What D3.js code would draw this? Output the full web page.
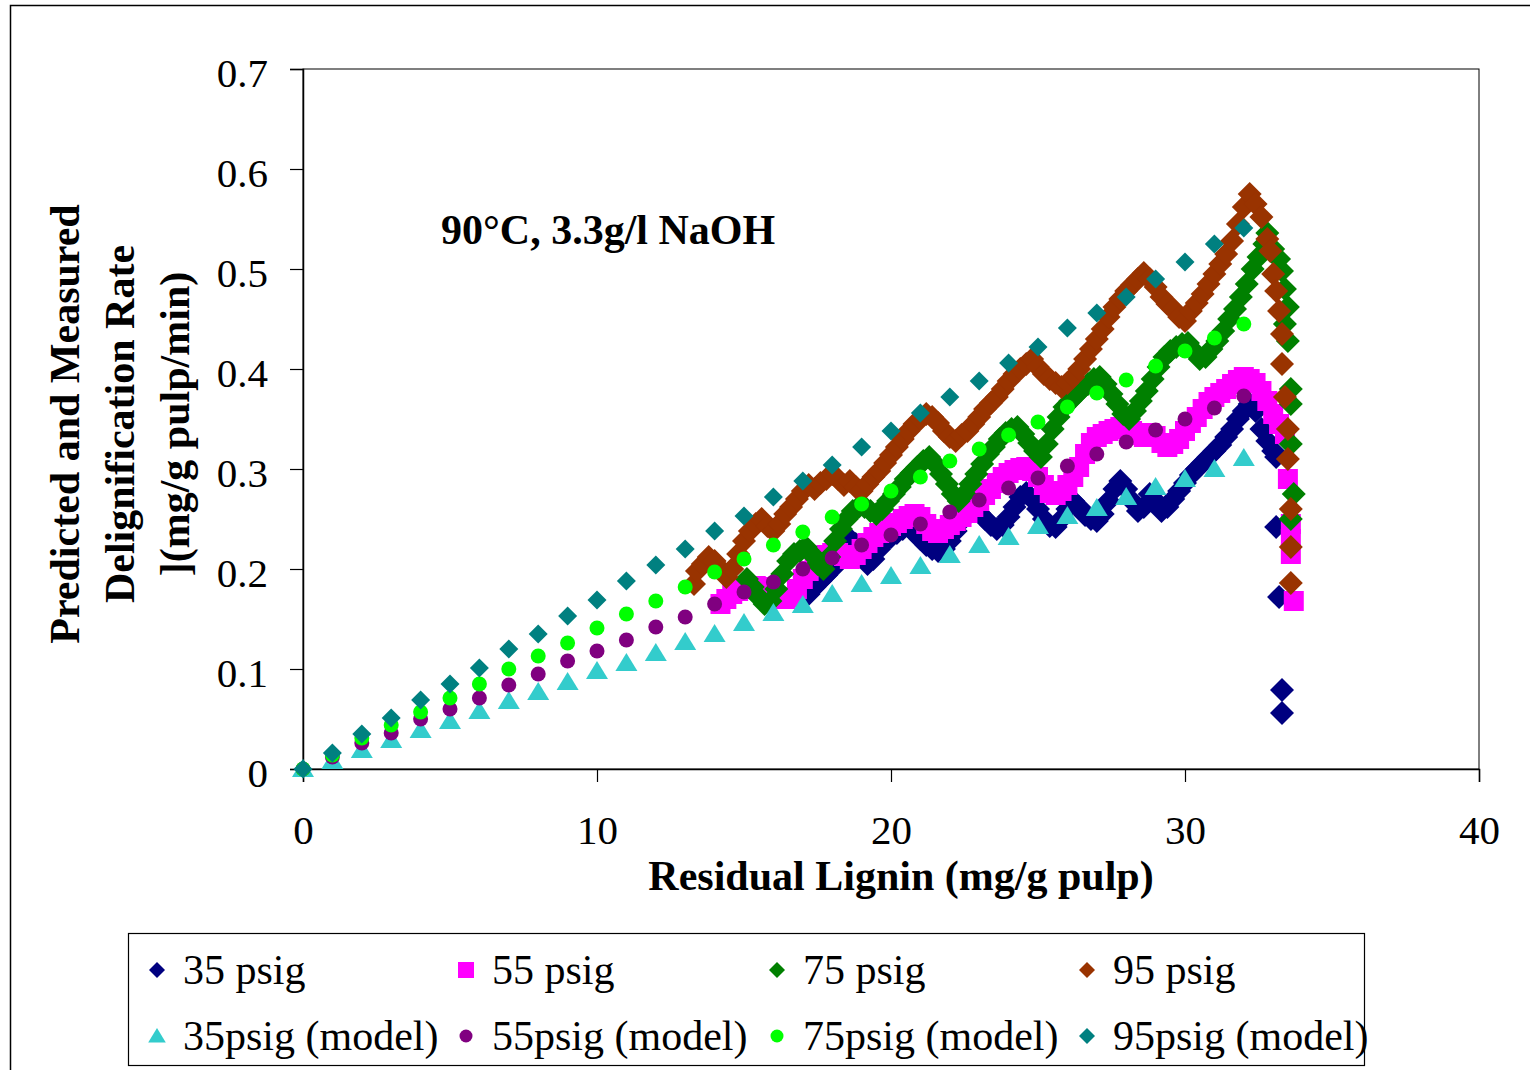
<!DOCTYPE html>
<html>
<head>
<meta charset="utf-8">
<script src="https://cdn.jsdelivr.net/npm/d3@7"></script>
<style>
  body { margin: 0; background: #fff; }
  svg text { font-family: "Times New Roman", "Liberation Serif", serif; fill: #000; }
</style>
</head>
<body>
<div id="chart"></div>
<script>
// measured rate, [residual lignin, rate]
var meas35 = [[17.2,0.175],[17.4,0.182],[17.6,0.188],[17.8,0.194],[18.0,0.200],[18.2,0.212],[18.4,0.222],[18.6,0.230],[18.8,0.225],[19.0,0.215],[19.2,0.205],[19.4,0.210],[19.6,0.220],[19.8,0.228],[20.0,0.232],[20.2,0.236],[20.4,0.240],[20.6,0.242],[20.8,0.236],[21.0,0.230],[21.2,0.224],[21.4,0.220],[21.6,0.218],[21.8,0.220],[22.0,0.228],[22.2,0.238],[22.4,0.248],[22.6,0.256],[22.8,0.260],[23.0,0.256],[23.2,0.250],[23.4,0.244],[23.6,0.240],[23.8,0.244],[24.0,0.252],[24.2,0.262],[24.4,0.272],[24.6,0.276],[24.8,0.270],[25.0,0.260],[25.2,0.250],[25.4,0.243],[25.6,0.242],[25.8,0.250],[26.0,0.260],[26.2,0.268],[26.4,0.262],[26.6,0.254],[26.8,0.250],[27.0,0.248],[27.2,0.255],[27.4,0.268],[27.6,0.280],[27.8,0.288],[28.0,0.280],[28.2,0.268],[28.4,0.258],[28.6,0.262],[28.8,0.275],[29.0,0.268],[29.2,0.258],[29.4,0.262],[29.6,0.270],[29.8,0.278],[30.0,0.286],[30.2,0.294],[30.4,0.300],[30.6,0.306],[30.8,0.312],[31.0,0.318],[31.2,0.324],[31.4,0.332],[31.6,0.340],[31.8,0.350],[32.0,0.358],[32.2,0.365],[32.4,0.358],[32.6,0.340],[32.8,0.328],[33.0,0.318],[33.1,0.312],[33.1,0.242],[33.2,0.172],[33.3,0.079],[33.3,0.056]];

var meas55 = [[14.2,0.165],[14.4,0.170],[14.6,0.175],[14.8,0.178],[15.0,0.180],[15.2,0.182],[15.4,0.183],[15.6,0.182],[15.8,0.178],[16.0,0.175],[16.2,0.172],[16.4,0.170],[16.6,0.172],[16.8,0.180],[17.0,0.190],[17.2,0.198],[17.4,0.205],[17.6,0.210],[17.8,0.214],[18.0,0.216],[18.2,0.216],[18.4,0.213],[18.6,0.210],[18.8,0.214],[19.0,0.220],[19.2,0.226],[19.4,0.232],[19.6,0.236],[19.8,0.240],[20.0,0.243],[20.2,0.246],[20.4,0.250],[20.6,0.253],[20.8,0.255],[21.0,0.252],[21.2,0.245],[21.4,0.238],[21.6,0.236],[21.8,0.240],[22.0,0.244],[22.2,0.248],[22.4,0.252],[22.6,0.256],[22.8,0.262],[23.0,0.268],[23.2,0.274],[23.4,0.280],[23.6,0.286],[23.8,0.292],[24.0,0.296],[24.2,0.299],[24.4,0.301],[24.6,0.302],[24.8,0.298],[25.0,0.292],[25.2,0.284],[25.4,0.276],[25.6,0.274],[25.8,0.278],[26.0,0.284],[26.2,0.292],[26.4,0.302],[26.6,0.315],[26.8,0.326],[27.0,0.332],[27.2,0.335],[27.4,0.338],[27.6,0.340],[27.8,0.342],[28.0,0.341],[28.2,0.338],[28.4,0.334],[28.6,0.332],[28.8,0.336],[29.0,0.333],[29.2,0.326],[29.4,0.322],[29.6,0.325],[29.8,0.330],[30.0,0.338],[30.2,0.346],[30.4,0.352],[30.6,0.360],[30.8,0.367],[31.0,0.372],[31.2,0.376],[31.4,0.380],[31.6,0.385],[31.8,0.389],[32.0,0.392],[32.2,0.390],[32.4,0.386],[32.6,0.378],[32.8,0.368],[33.0,0.355],[33.2,0.345],[33.4,0.335],[33.5,0.290],[33.6,0.245],[33.6,0.230],[33.6,0.215],[33.7,0.168]];

var meas75 = [[15.1,0.190],[15.3,0.182],[15.5,0.172],[15.7,0.165],[15.9,0.168],[16.1,0.180],[16.3,0.195],[16.5,0.208],[16.7,0.215],[16.9,0.218],[17.1,0.222],[17.3,0.215],[17.5,0.205],[17.7,0.200],[17.9,0.212],[18.1,0.228],[18.3,0.240],[18.5,0.250],[18.7,0.258],[18.9,0.262],[19.1,0.262],[19.3,0.258],[19.5,0.255],[19.7,0.260],[19.9,0.268],[20.1,0.275],[20.3,0.282],[20.5,0.290],[20.7,0.296],[20.9,0.302],[21.1,0.308],[21.3,0.312],[21.5,0.305],[21.7,0.295],[21.9,0.285],[22.1,0.275],[22.3,0.268],[22.5,0.275],[22.7,0.285],[22.9,0.295],[23.1,0.305],[23.3,0.315],[23.5,0.322],[23.7,0.330],[23.9,0.336],[24.1,0.340],[24.3,0.342],[24.5,0.335],[24.7,0.326],[24.9,0.318],[25.1,0.312],[25.3,0.325],[25.5,0.340],[25.7,0.352],[25.9,0.362],[26.1,0.368],[26.3,0.374],[26.5,0.380],[26.7,0.385],[26.9,0.390],[27.1,0.392],[27.3,0.385],[27.5,0.375],[27.7,0.365],[27.9,0.355],[28.1,0.350],[28.3,0.358],[28.5,0.368],[28.7,0.378],[28.9,0.390],[29.1,0.402],[29.3,0.412],[29.5,0.418],[29.7,0.422],[29.9,0.425],[30.1,0.426],[30.3,0.418],[30.5,0.410],[30.7,0.412],[30.9,0.420],[31.1,0.428],[31.3,0.438],[31.5,0.450],[31.7,0.460],[31.9,0.472],[32.1,0.485],[32.3,0.500],[32.5,0.512],[32.7,0.525],[32.8,0.536],[33.0,0.520],[33.2,0.510],[33.3,0.498],[33.4,0.480],[33.5,0.462],[33.4,0.445],[33.5,0.428],[33.6,0.380],[33.6,0.365],[33.6,0.325],[33.7,0.275],[33.6,0.250]];

var meas95 = [[13.3,0.185],[13.4,0.198],[13.6,0.205],[13.8,0.212],[14.0,0.208],[14.2,0.200],[14.4,0.192],[14.6,0.200],[14.8,0.215],[15.0,0.228],[15.2,0.238],[15.4,0.245],[15.6,0.250],[15.8,0.243],[16.0,0.238],[16.2,0.245],[16.4,0.255],[16.6,0.262],[16.8,0.270],[17.0,0.278],[17.2,0.284],[17.4,0.280],[17.6,0.286],[17.8,0.290],[18.0,0.295],[18.2,0.290],[18.4,0.284],[18.6,0.288],[18.8,0.282],[19.0,0.278],[19.2,0.285],[19.4,0.292],[19.6,0.298],[19.8,0.306],[20.0,0.314],[20.2,0.322],[20.4,0.330],[20.6,0.338],[20.8,0.345],[21.0,0.350],[21.2,0.355],[21.4,0.352],[21.6,0.346],[21.8,0.338],[22.0,0.332],[22.2,0.328],[22.4,0.334],[22.6,0.338],[22.8,0.345],[23.0,0.352],[23.2,0.360],[23.4,0.366],[23.6,0.372],[23.8,0.380],[24.0,0.388],[24.2,0.395],[24.4,0.400],[24.6,0.405],[24.8,0.410],[25.0,0.402],[25.2,0.395],[25.4,0.390],[25.6,0.386],[25.8,0.382],[26.0,0.386],[26.2,0.392],[26.4,0.400],[26.6,0.410],[26.8,0.420],[27.0,0.430],[27.2,0.440],[27.4,0.452],[27.6,0.462],[27.8,0.470],[28.0,0.478],[28.2,0.484],[28.4,0.490],[28.6,0.496],[28.8,0.490],[29.0,0.482],[29.2,0.472],[29.4,0.465],[29.6,0.460],[29.8,0.452],[30.0,0.448],[30.2,0.458],[30.4,0.466],[30.6,0.475],[30.8,0.485],[31.0,0.495],[31.2,0.505],[31.4,0.515],[31.6,0.528],[31.8,0.545],[32.0,0.562],[32.2,0.575],[32.4,0.565],[32.6,0.552],[32.8,0.530],[32.9,0.518],[33.0,0.495],[33.1,0.478],[33.2,0.458],[33.3,0.435],[33.3,0.405],[33.4,0.372],[33.5,0.340],[33.5,0.310],[33.6,0.260],[33.6,0.222],[33.6,0.186]];

// model predictions at whole-number lignin values
var modelX = [0,1,2,3,4,5,6,7,8,9,10,11,12,13,14,15,16,17,18,19,20,21,22,23,24,25,26,27,28,29,30,31,32];
var model35 = [0,0.008,0.019,0.029,0.039,0.048,0.058,0.068,0.077,0.087,0.098,0.106,0.116,0.127,0.135,0.146,0.156,0.164,0.175,0.185,0.193,0.203,0.214,0.224,0.232,0.243,0.253,0.261,0.272,0.282,0.290,0.300,0.311];
var model55 = [0,0.012,0.026,0.036,0.050,0.060,0.071,0.084,0.095,0.108,0.118,0.129,0.142,0.152,0.165,0.177,0.187,0.200,0.211,0.224,0.234,0.245,0.257,0.269,0.281,0.291,0.303,0.315,0.327,0.339,0.350,0.361,0.373];
var model75 = [0,0.014,0.031,0.044,0.057,0.071,0.085,0.100,0.113,0.126,0.141,0.155,0.168,0.182,0.197,0.210,0.224,0.237,0.252,0.265,0.278,0.292,0.308,0.320,0.334,0.347,0.362,0.376,0.389,0.403,0.418,0.431,0.445];
var model95 = [0,0.016,0.035,0.051,0.069,0.085,0.101,0.120,0.135,0.153,0.169,0.188,0.204,0.220,0.238,0.253,0.272,0.288,0.304,0.322,0.338,0.356,0.372,0.388,0.406,0.422,0.441,0.456,0.472,0.490,0.507,0.525,0.541];

var xTicks = [0, 10, 20, 30, 40];
var yTicks = [0, 0.1, 0.2, 0.3, 0.4, 0.5, 0.6, 0.7];

var W = 1530, H = 1070;
var plot = {left: 303, top: 69, right: 1479, bottom: 769};

var svg = d3.select("#chart").append("svg")
    .attr("width", W).attr("height", H);

// outer chart frame
svg.append("rect")
    .attr("x", 10.5).attr("y", 5.5)
    .attr("width", W + 10).attr("height", H + 10)
    .attr("fill", "none").attr("stroke", "#000").attr("stroke-width", 1.5);

var x = d3.scaleLinear().domain([0, 40]).range([plot.left, plot.right]);
var y = d3.scaleLinear().domain([0, 0.7]).range([plot.bottom, plot.top]);

// plot area border
svg.append("rect")
    .attr("x", plot.left).attr("y", plot.top)
    .attr("width", plot.right - plot.left).attr("height", plot.bottom - plot.top)
    .attr("fill", "none").attr("stroke", "#000").attr("stroke-width", 1);

var xAxis = svg.append("g")
    .attr("transform", "translate(0," + plot.bottom + ")")
    .call(d3.axisBottom(x).tickValues(xTicks).tickSize(13).tickPadding(33).tickFormat(d3.format("d")));
var yAxis = svg.append("g")
    .attr("transform", "translate(" + plot.left + ",0)")
    .call(d3.axisLeft(y).tickValues(yTicks).tickSize(13).tickPadding(22).tickFormat(function(d){ return d === 0 ? "0" : d3.format(".1f")(d); }));

[xAxis, yAxis].forEach(function(g){
    g.select(".domain").attr("stroke", "#000").attr("stroke-width", 1.5);
    g.selectAll(".tick line").attr("stroke", "#000").attr("stroke-width", 1.2);
    g.selectAll(".tick text").attr("font-size", 41).attr("font-family", "'Times New Roman', 'Liberation Serif', serif").attr("fill", "#000");
});
yAxis.selectAll(".tick text").attr("dy", "0.42em");

// marker shapes
function shapePath(kind, r) {
    if (kind === "diamond") return "M0," + (-r) + "L" + r + ",0L0," + r + "L" + (-r) + ",0Z";
    if (kind === "square") return "M" + (-r) + "," + (-r) + "h" + (2*r) + "v" + (2*r) + "h" + (-2*r) + "Z";
    if (kind === "triangle") return "M0," + (-r) + "L" + (r*1.1) + "," + (r*0.8) + "L" + (-r*1.1) + "," + (r*0.8) + "Z";
    return d3.symbol(d3.symbolCircle, Math.PI * r * r)();
}

var series = [
    {name: "35 psig", pts: meas35, kind: "diamond", r: 12, color: "#000080"},
    {name: "55 psig", pts: meas55, kind: "square", r: 10, color: "#FF00FF"},
    {name: "75 psig", pts: meas75, kind: "diamond", r: 12, color: "#008000"},
    {name: "95 psig", pts: meas95, kind: "diamond", r: 12, color: "#993300"},
    {name: "35psig (model)", pts: modelX.map(function(v, i){ return [v, model35[i]]; }), kind: "triangle", r: 10, color: "#33CCCC"},
    {name: "55psig (model)", pts: modelX.map(function(v, i){ return [v, model55[i]]; }), kind: "circle", r: 7.5, color: "#800080"},
    {name: "75psig (model)", pts: modelX.map(function(v, i){ return [v, model75[i]]; }), kind: "circle", r: 7.5, color: "#00FF00"},
    {name: "95psig (model)", pts: modelX.map(function(v, i){ return [v, model95[i]]; }), kind: "diamond", r: 9.5, color: "#008080"}
];

series.forEach(function(s){
    svg.append("g").selectAll("path")
        .data(s.pts)
        .enter().append("path")
        .attr("d", shapePath(s.kind, s.r))
        .attr("transform", function(d){ return "translate(" + x(d[0]) + "," + y(d[1]) + ")"; })
        .attr("fill", s.color);
});

// annotation
svg.append("text")
    .attr("x", 441).attr("y", 244)
    .attr("font-size", 42).attr("font-weight", "bold")
    .text("90°C, 3.3g/l NaOH");

// axis titles
svg.append("text")
    .attr("x", 901).attr("y", 890)
    .attr("text-anchor", "middle")
    .attr("font-size", 42).attr("font-weight", "bold")
    .text("Residual Lignin (mg/g pulp)");

var yTitle = ["Predicted and Measured", "Delignification Rate", "](mg/g pulp/min)"];
svg.append("g")
    .attr("transform", "translate(79,424) rotate(-90)")
    .selectAll("text")
    .data(yTitle)
    .enter().append("text")
    .attr("x", 0).attr("y", function(d, i){ return i * 55; })
    .attr("text-anchor", "middle")
    .attr("font-size", 42).attr("font-weight", "bold")
    .text(function(d){ return d; });

// legend
svg.append("rect")
    .attr("x", 128.5).attr("y", 933.5)
    .attr("width", 1236).attr("height", 132)
    .attr("fill", "none").attr("stroke", "#000").attr("stroke-width", 1.2);

var legX = [157, 466, 777, 1087];
var legY = [970, 1036];
var leg = svg.append("g").selectAll("g")
    .data(series)
    .enter().append("g")
    .attr("transform", function(d, i){ return "translate(" + legX[i % 4] + "," + legY[Math.floor(i / 4)] + ")"; });
leg.append("path")
    .attr("d", function(d){ return shapePath(d.kind, d.kind === "circle" ? 6.5 : 8); })
    .attr("fill", function(d){ return d.color; });
leg.append("text")
    .attr("x", 26).attr("y", 14)
    .attr("font-size", 42)
    .text(function(d){ return d.name; });
</script>
</body>
</html>
